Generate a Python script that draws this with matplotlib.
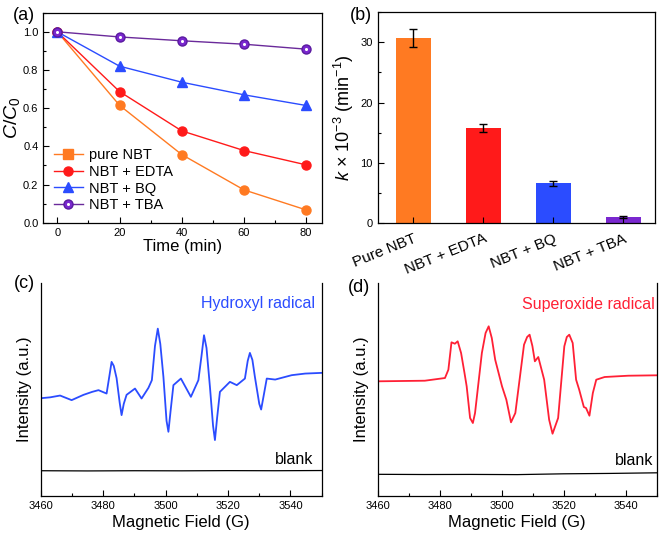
import matplotlib
matplotlib.use("Agg")
import matplotlib.pyplot as plt
from matplotlib.lines import Line2D
from matplotlib.ticker import MultipleLocator

plt.rcParams['font.family'] = ['Liberation Sans', 'DejaVu Sans']
plt.rcParams['mathtext.fontset'] = 'custom'
plt.rcParams['mathtext.rm'] = 'Liberation Sans'
plt.rcParams['mathtext.it'] = 'Liberation Sans:italic'

# ---- (a) degradation curves ----
time_min = [0, 20, 40, 60, 80]
pure_nbt = [1.0, 0.615, 0.357, 0.172, 0.067]
nbt_edta = [1.0, 0.687, 0.481, 0.378, 0.303]
nbt_bq = [1.0, 0.820, 0.736, 0.670, 0.614]
nbt_tba = [1.0, 0.973, 0.953, 0.935, 0.909]

# ---- (b) rate constants ----
scavengers = ["Pure NBT", "NBT + EDTA", "NBT + BQ", "NBT + TBA"]
k_values = [30.7, 15.8, 6.6, 1.1]
k_errors = [1.5, 0.6, 0.4, 0.15]

# ---- (c) DMPO-OH spectrum ----
oh_field = [3460.3, 3463.0, 3466.2, 3469.9, 3473.7, 3476.5, 3478.5, 3481.1,
            3482.0, 3482.7, 3483.4, 3484.3, 3485.3, 3485.9, 3486.6, 3487.5,
            3490.2, 3492.3, 3494.5, 3495.6, 3496.6, 3497.5, 3498.3, 3499.3,
            3500.3, 3500.9, 3501.6, 3502.5, 3504.9, 3508.1, 3510.5, 3511.5,
            3512.3, 3513.1, 3514.2, 3515.2, 3515.8, 3516.5, 3517.4, 3520.6,
            3522.8, 3525.4, 3526.3, 3527.0, 3527.8, 3528.6, 3530.0, 3530.6,
            3531.4, 3532.4, 3535.1, 3540.4, 3544.7, 3550.0]
oh_signal = [97.7, 98.5, 100.3, 95.7, 101.0, 104.0, 105.7, 102.3,
             120.0, 134.0, 130.0, 117.7, 93.0, 80.7, 92.0, 101.0,
             107.3, 97.3, 108.0, 115.7, 150.0, 167.3, 152.0, 119.0,
             75.0, 64.0, 85.0, 110.7, 117.3, 99.0, 115.7, 140.0,
             160.7, 148.0, 109.0, 70.0, 55.7, 78.0, 104.0, 114.0,
             110.7, 117.3, 135.0, 143.0, 136.0, 119.0, 92.0, 86.3,
             100.0, 117.3, 116.3, 120.7, 122.3, 123.0]
oh_blank_field = [3460, 3475, 3490, 3505, 3520, 3535, 3550]
oh_blank = [25.0, 24.8, 25.0, 24.9, 25.1, 25.0, 25.2]

# ---- (d) DMPO-O2- spectrum ----
o2_field = [3460.0, 3475.2, 3481.7, 3482.8, 3483.8, 3484.9, 3485.8, 3486.9,
            3488.0, 3488.7, 3489.8, 3490.7, 3491.4, 3493.6, 3494.8, 3495.8,
            3496.8, 3497.9, 3500.1, 3501.5, 3503.0, 3504.4, 3507.2, 3508.2,
            3509.0, 3509.9, 3510.7, 3511.8, 3513.7, 3515.3, 3516.4, 3518.2,
            3520.2, 3521.0, 3521.8, 3522.9, 3524.0, 3525.0, 3526.5, 3527.2,
            3528.3, 3529.4, 3530.5, 3533.2, 3540.8, 3550.0]
o2_signal = [114.7, 115.3, 118.0, 126.3, 153.7, 152.3, 154.7, 143.0,
             123.0, 109.7, 78.0, 73.0, 83.0, 143.0, 163.0, 169.7,
             158.0, 136.3, 109.7, 96.3, 73.7, 83.0, 151.3, 159.0,
             161.3, 150.0, 134.7, 139.0, 116.3, 76.3, 62.3, 78.0,
             149.7, 159.0, 161.3, 153.0, 116.3, 106.3, 89.0, 88.0,
             80.3, 103.0, 116.3, 119.0, 120.3, 120.7]
o2_blank_field = [3460, 3475, 3490, 3505, 3520, 3535, 3550]
o2_blank = [21.7, 21.5, 21.6, 21.4, 22.2, 22.6, 23.2]

orange = '#ff7a22'
red = '#ff1a1a'
blue = '#2b4cff'
purple = '#7a28cf'

fig = plt.figure(figsize=(6.61, 5.36), dpi=100)
ax_a = fig.add_axes([0.0655, 0.5845, 0.4212, 0.3918])
ax_b = fig.add_axes([0.5714, 0.5834, 0.4195, 0.3942])
ax_c = fig.add_axes([0.0616, 0.0752, 0.4251, 0.3968])
ax_d = fig.add_axes([0.5714, 0.0746, 0.4221, 0.3974])

tick_kw = dict(direction='in', labelsize=8, length=4, width=0.8)

# (a)
ms = 6.5
ax_a.plot(time_min, pure_nbt, '-', color=orange, lw=1, marker='o', ms=ms)
ax_a.plot(time_min, nbt_edta, '-', color=red, lw=1, marker='o', ms=ms)
ax_a.plot(time_min, nbt_bq, '-', color=blue, lw=1, marker='^', ms=ms + 1)
ax_a.plot(time_min, nbt_tba, '-', color='#6a2a9a', lw=1, marker='o', ms=ms,
          mfc=purple, mec='#5a1aa0')
ax_a.plot(time_min, nbt_tba, 'o', color='white', ms=2.2, mec='none')
ax_a.set_xlim(-4.5, 85)
ax_a.set_ylim(0, 1.1)
ax_a.xaxis.set_major_locator(MultipleLocator(20))
ax_a.xaxis.set_minor_locator(MultipleLocator(10))
ax_a.yaxis.set_major_locator(MultipleLocator(0.2))
ax_a.yaxis.set_minor_locator(MultipleLocator(0.1))
ax_a.yaxis.set_major_formatter(matplotlib.ticker.FormatStrFormatter('%.1f'))
ax_a.tick_params(which='both', **tick_kw)
ax_a.tick_params(which='minor', length=2)
ax_a.set_xlabel('Time (min)', fontsize=12, labelpad=1)
ax_a.set_ylabel('$C$/$C_0$', fontsize=14, labelpad=1)
handles = [
    Line2D([], [], color=orange, lw=1, marker='s', ms=ms),
    Line2D([], [], color=red, lw=1, marker='o', ms=ms),
    Line2D([], [], color=blue, lw=1, marker='^', ms=ms + 1),
    (Line2D([], [], color='#6a2a9a', lw=1, marker='o', ms=ms, mfc=purple, mec='#5a1aa0'),
     Line2D([], [], color='white', lw=0, marker='o', ms=2.2, mec='none')),
]
ax_a.legend(handles, ['pure NBT', 'NBT + EDTA', 'NBT + BQ', 'NBT + TBA'],
            loc='lower left', bbox_to_anchor=(0.0, 0.0), frameon=False,
            fontsize=10.5, labelspacing=0.2, handletextpad=0.4, borderaxespad=0.3)

# (b)
xpos = [1, 2, 3, 4]
ax_b.bar(xpos, k_values, width=0.5, color=[orange, red, blue, purple],
         yerr=k_errors, capsize=3, error_kw=dict(ecolor='black', elinewidth=1, capthick=1))
ax_b.set_xlim(0.49, 4.45)
ax_b.set_ylim(0, 35)
ax_b.set_xticks(xpos)
ax_b.set_xticklabels(scavengers, rotation=22, ha='right', rotation_mode='anchor', fontsize=11)
ax_b.yaxis.set_major_locator(MultipleLocator(10))
ax_b.yaxis.set_minor_locator(MultipleLocator(5))
ax_b.tick_params(which='both', **tick_kw)
ax_b.tick_params(axis='x', labelsize=11, pad=6)
ax_b.tick_params(which='minor', length=2)
ax_b.set_ylabel('$k$ × 10$^{-3}$ (min$^{-1}$)', fontsize=13, labelpad=3)

# (c) and (d)
for ax in (ax_c, ax_d):
    ax.set_xlim(3460, 3550)
    ax.set_ylim(0, 213)
    ax.xaxis.set_major_locator(MultipleLocator(20))
    ax.xaxis.set_minor_locator(MultipleLocator(10))
    ax.tick_params(which='both', **tick_kw)
    ax.tick_params(which='minor', length=2)
    ax.tick_params(axis='y', left=False, labelleft=False)
    ax.spines['top'].set_visible(False)
    ax.set_xlabel('Magnetic Field (G)', fontsize=12, labelpad=3)
    ax.set_ylabel('Intensity (a.u.)', fontsize=12, labelpad=6)

ax_c.plot(oh_field, oh_signal, color=blue, lw=1.3)
ax_c.plot(oh_blank_field, oh_blank, color='black', lw=0.9)
ax_c.text(3547.9, 192.7, 'Hydroxyl radical', color=blue, fontsize=11.5, ha='right', va='center')
ax_c.text(3547.3, 36.7, 'blank', color='black', fontsize=11.5, ha='right', va='center')

ax_d.plot(o2_field, o2_signal, color='#ff2035', lw=1.3)
ax_d.plot(o2_blank_field, o2_blank, color='black', lw=0.9)
ax_d.text(3549.4, 191.7, 'Superoxide radical', color='#ff2035', fontsize=11.5, ha='right', va='center')
ax_d.text(3548.9, 35.7, 'blank', color='black', fontsize=11.5, ha='right', va='center')

for ax in (ax_a, ax_b, ax_c, ax_d):
    for s in ax.spines.values():
        s.set_linewidth(0.9)

fig.text(13 / 661, 1 - 15 / 536, '(a)', fontsize=13, va='center', ha='left')
fig.text(350 / 661, 1 - 15 / 536, '(b)', fontsize=13, va='center', ha='left')
fig.text(14 / 661, 1 - 283 / 536, '(c)', fontsize=13, va='center', ha='left')
fig.text(348 / 661, 1 - 288 / 536, '(d)', fontsize=13, va='center', ha='left')

fig.savefig('out.png', dpi=100)
